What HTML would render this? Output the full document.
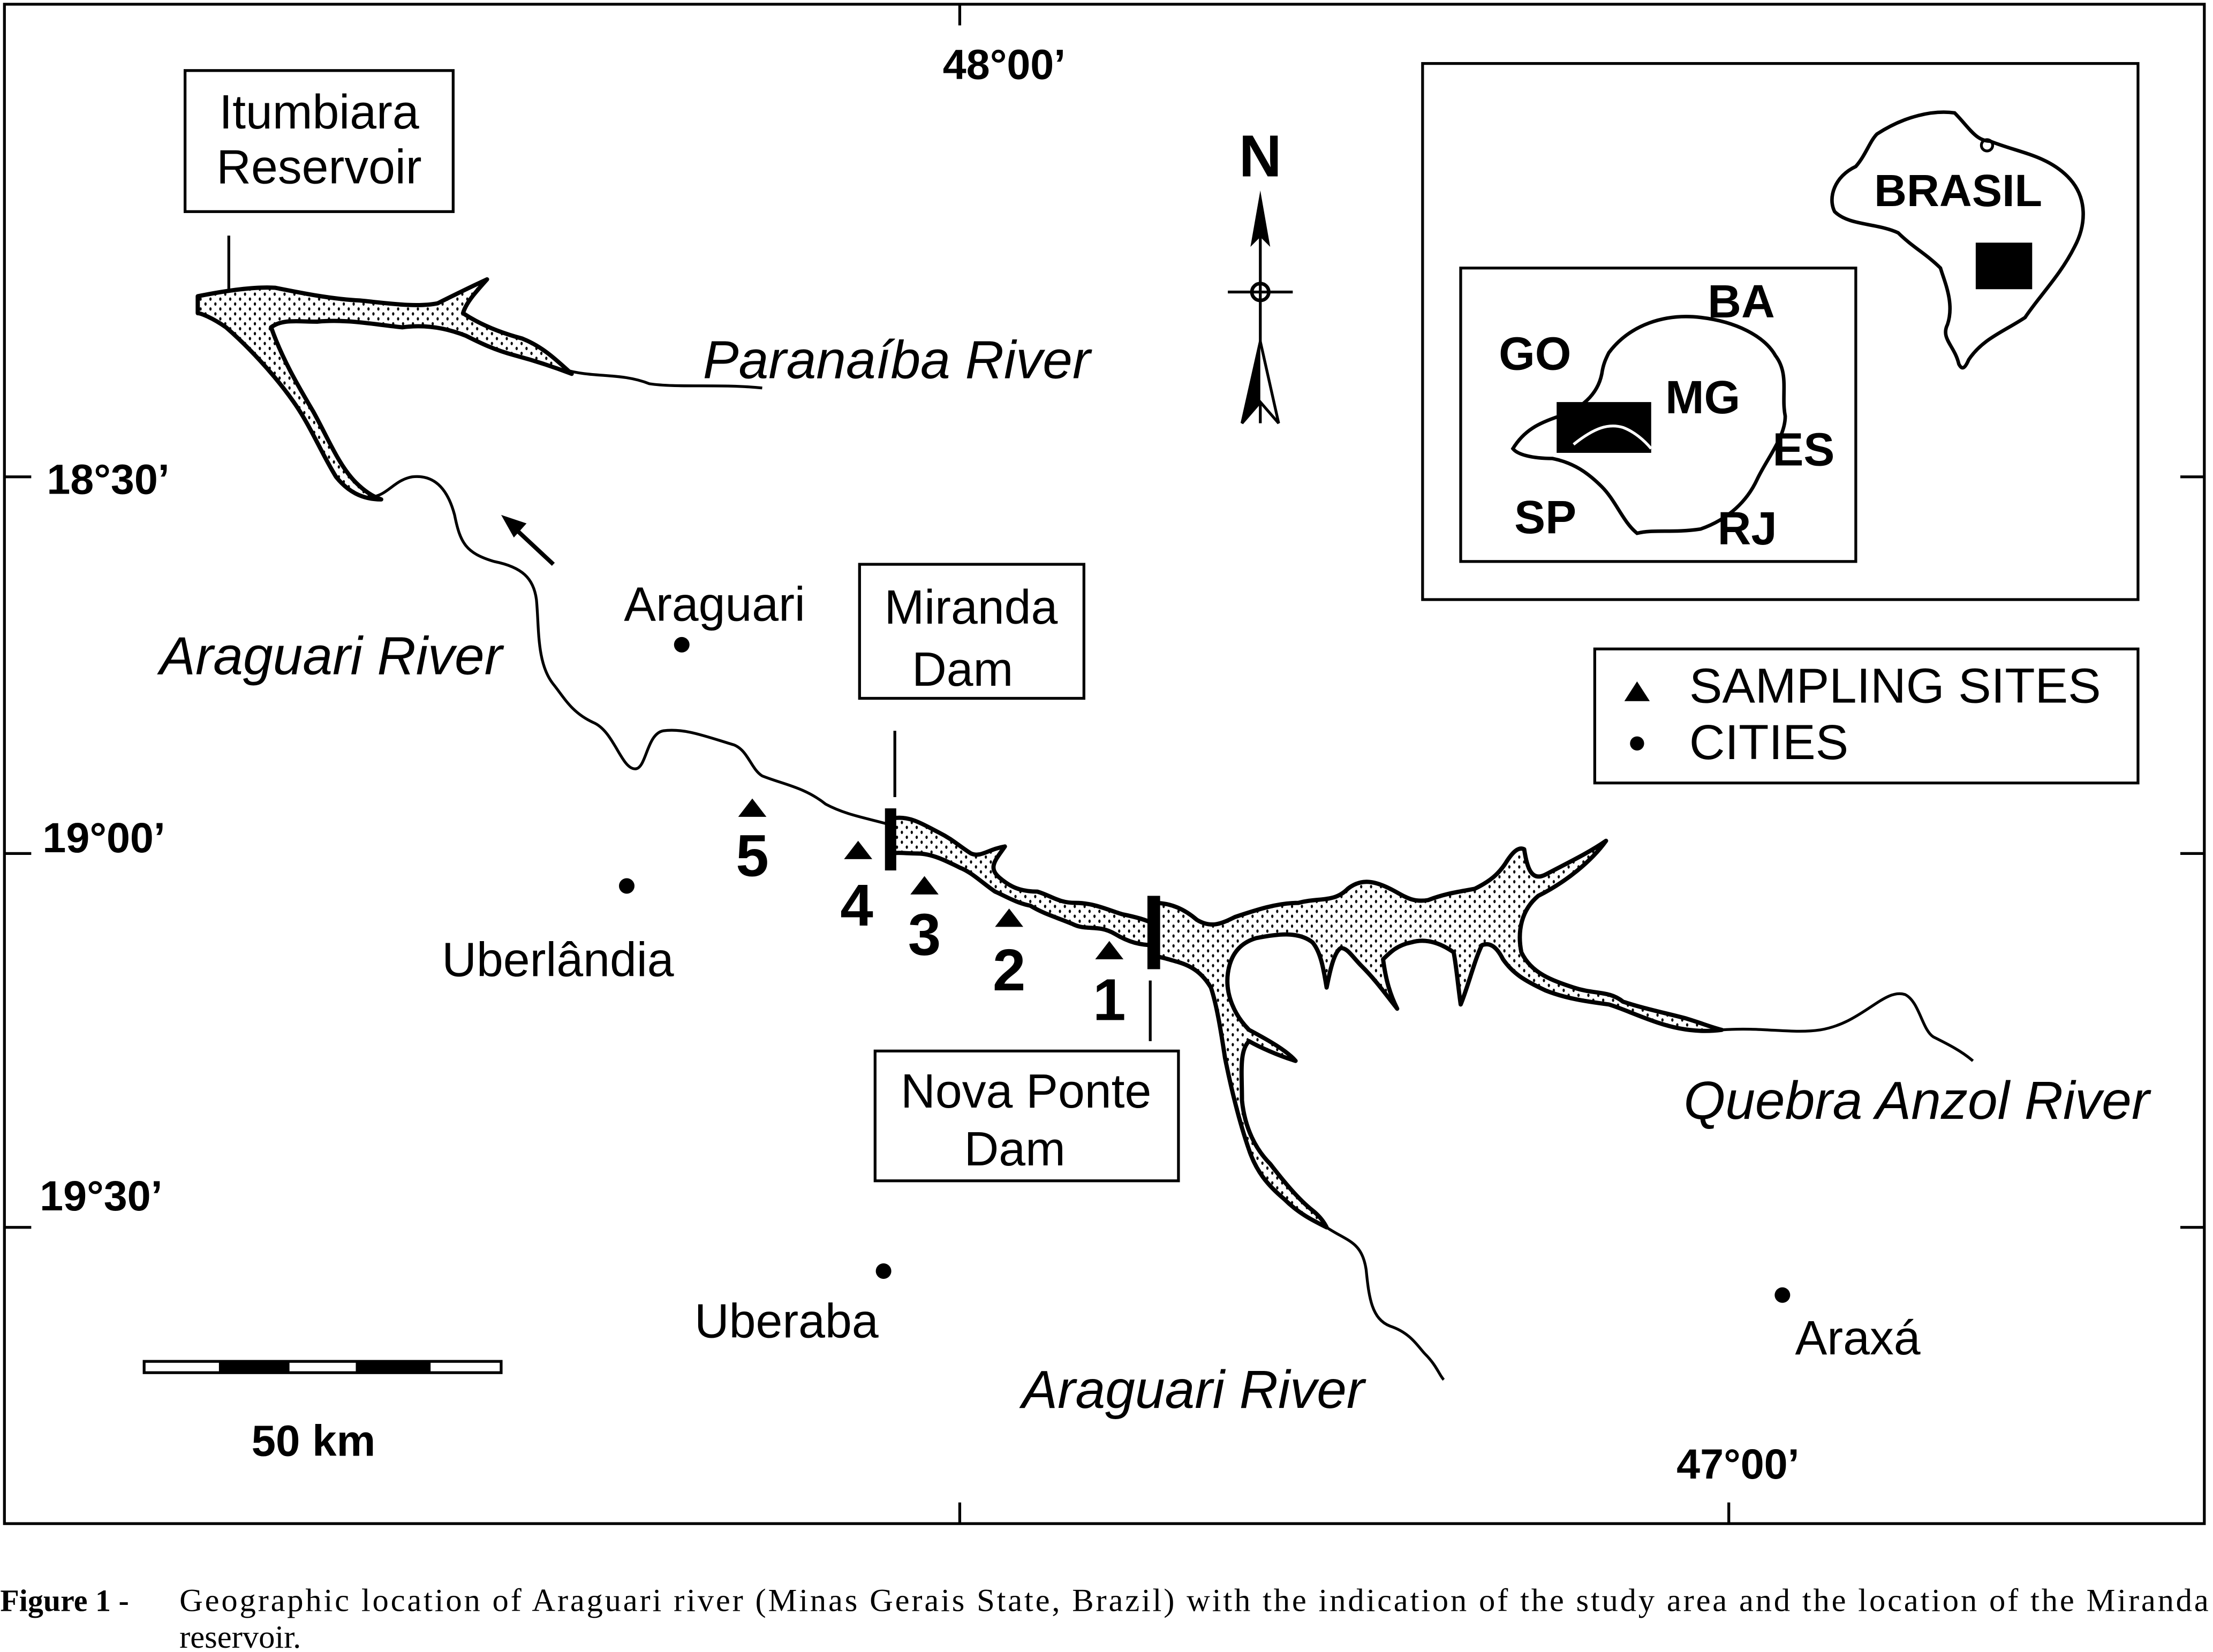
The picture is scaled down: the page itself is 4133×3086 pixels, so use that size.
<!DOCTYPE html>
<html><head><meta charset="utf-8"><style>
html,body{margin:0;padding:0;background:#fff;}
svg{display:block;}
text{font-family:"Liberation Sans",sans-serif;fill:#000;}
.b{font-weight:bold;}
.i{font-style:italic;}
.s{font-family:"Liberation Serif",serif;}
</style></head><body>
<svg width="4133" height="3086" viewBox="0 0 1568 1171" xmlns="http://www.w3.org/2000/svg">
<defs>
<pattern id="dots" width="7" height="7" patternUnits="userSpaceOnUse">
<rect width="7" height="7" fill="#fff"/>
<ellipse cx="2" cy="2" rx="0.8" ry="1.2" fill="#000"/>
<ellipse cx="5.5" cy="5.5" rx="0.8" ry="1.2" fill="#000"/>
</pattern>
</defs>
<rect x="0" y="0" width="1568" height="1171" fill="#fff"/>
<rect x="3" y="3" width="1559" height="1077" fill="none" stroke="#000" stroke-width="2"/>
<g stroke="#000" stroke-width="2">
<line x1="680" y1="3" x2="680" y2="18"/>
<line x1="3" y1="338" x2="22" y2="338"/><line x1="3" y1="605" x2="22" y2="605"/><line x1="3" y1="870" x2="22" y2="870"/>
<line x1="1545" y1="338" x2="1562" y2="338"/><line x1="1545" y1="605" x2="1562" y2="605"/><line x1="1545" y1="870" x2="1562" y2="870"/>
<line x1="680" y1="1065" x2="680" y2="1080"/><line x1="1225" y1="1065" x2="1225" y2="1080"/>
</g>
<g font-size="30">
<text x="668" y="56" class="b">48°00’</text>
<text x="33" y="350" class="b">18°30’</text>
<text x="30" y="604" class="b">19°00’</text>
<text x="28" y="858" class="b">19°30’</text>
<text x="1188" y="1048" class="b">47°00’</text>
</g>
<g fill="none" stroke="#000" stroke-width="2">
<rect x="131" y="50" width="190" height="100"/>
<rect x="609" y="400" width="159" height="95"/>
<rect x="620" y="745" width="215" height="92"/>
<rect x="1008" y="45" width="507" height="380"/>
<rect x="1035" y="190" width="280" height="208"/>
<rect x="1130" y="460" width="385" height="95"/>
<line x1="162" y1="167" x2="162" y2="205"/>
<line x1="634" y1="518" x2="634" y2="565"/>
<line x1="815" y1="695" x2="815" y2="738"/>
</g>
<g font-size="34" text-anchor="middle">
<text x="226" y="91">Itumbiara</text><text x="226" y="130">Reservoir</text>
<text x="688" y="442">Miranda</text><text x="682" y="486">Dam</text>
<text x="727" y="785">Nova Ponte</text><text x="719" y="826">Dam</text>
</g>
<polygon points="1151,497 1160,483 1169,497" fill="#000"/>
<circle cx="1160" cy="527" r="5" fill="#000"/>
<text x="1197" y="498" font-size="35">SAMPLING SITES</text>
<text x="1197" y="538" font-size="35">CITIES</text>
<g fill="none" stroke="#000" stroke-width="2">
<path d="M400,262 C420,268 440,264 460,272 C480,275 510,272 540,275"/>
<path d="M265,352 C275,350 280,340 292,338 C310,336 318,350 322,365 C326,385 330,392 350,398 C370,402 378,410 380,425 C382,445 380,470 392,485 C400,495 405,505 420,512 C435,518 440,545 450,545 C458,545 458,520 470,518 C485,516 500,522 520,528 C530,532 532,545 540,550 C555,556 570,558 585,570 C600,578 615,580 632,585"/>
<path d="M1220,730 C1250,728 1270,733 1290,730 C1320,725 1335,700 1350,705 C1360,710 1362,730 1370,735 C1380,740 1390,745 1398,752"/>
<path d="M940,870 C955,880 965,880 968,900 C970,920 972,935 985,940 C1000,945 1005,955 1010,960 C1018,968 1020,975 1023,978"/>
</g>
<g fill="url(#dots)" stroke="#000" stroke-width="3" stroke-linejoin="round">
<path d="M140,210 C160,206 180,203 195,204 C215,208 235,212 255,213 C275,215 295,218 310,215 C320,210 330,205 345,198 C336,208 330,215 328,222 C340,230 355,236 370,240 C385,246 395,256 405,265 C392,260 380,256 365,252 C350,248 340,243 330,238 C315,232 300,230 285,232 C265,230 245,226 225,228 C210,228 200,226 192,232 C200,255 212,275 222,292 C232,310 240,330 252,342 C258,348 264,352 270,354 C256,354 246,348 238,338 C228,322 220,302 208,285 C194,265 175,245 160,232 C150,225 142,222 140,222 Z"/>
<path d="M633,580 C645,578 655,585 665,590 C675,595 680,600 688,605 C695,608 700,602 712,600 C705,610 700,615 708,622 C715,628 722,632 735,632 C745,635 750,640 762,640 C775,640 785,645 795,648 C805,650 812,652 818,655 L818,670 C808,670 800,668 790,662 C778,655 770,660 760,655 C748,650 740,648 730,642 C720,640 712,635 705,632 C695,625 688,618 680,615 C670,610 660,605 650,605 C642,605 636,604 633,605 Z"/>
<path d="M818,640 C830,640 840,645 848,652 C858,658 865,655 875,650 C890,645 905,640 920,640 C935,636 945,640 955,630 C965,622 975,625 985,630 C995,635 1000,640 1012,638 C1025,633 1035,632 1045,630 C1055,625 1062,620 1068,610 C1072,604 1076,600 1080,602 C1082,615 1085,625 1095,620 C1110,612 1125,605 1138,596 C1128,610 1110,625 1090,635 C1078,645 1075,660 1078,675 C1085,690 1100,695 1115,700 C1130,705 1140,702 1150,710 C1165,715 1180,718 1195,722 C1205,725 1212,728 1220,730 C1205,732 1190,730 1175,725 C1160,720 1150,715 1140,712 C1125,710 1110,708 1095,702 C1080,695 1072,690 1065,680 C1060,670 1055,668 1050,670 C1045,680 1040,700 1035,712 C1033,698 1032,685 1030,675 C1020,668 1010,665 1000,668 C990,670 985,675 980,680 C982,695 985,705 990,715 C982,705 975,695 965,685 C958,678 955,672 950,672 C945,675 942,690 940,700 C938,688 936,675 930,668 C920,660 905,662 890,665 C880,668 872,675 870,690 C868,705 875,720 885,730 C900,738 912,745 918,752 C905,748 892,742 885,738 C878,745 880,760 880,780 C882,800 890,815 900,825 C910,838 920,850 930,858 C935,862 938,866 940,870 C930,865 920,860 910,850 C898,840 890,830 885,815 C878,795 872,770 868,750 C865,730 862,712 858,700 C852,690 845,685 835,682 C828,680 822,678 818,678 Z"/>
</g>
<rect x="627" y="573" width="8" height="44" fill="#000"/>
<rect x="813" y="635" width="9" height="52" fill="#000"/>
<line x1="392" y1="400" x2="362" y2="372" stroke="#000" stroke-width="3"/>
<polygon points="355,365 373,371 364,381" fill="#000"/>
<g fill="#000">
<polygon points="523,579 533,566 543,579"/>
<polygon points="598,609 608,596 618,609"/>
<polygon points="645,634 655,621 665,634"/>
<polygon points="705,657 715,644 725,657"/>
<polygon points="776,680 786,667 796,680"/>
</g>
<g font-size="42" text-anchor="middle">
<text x="533" y="621" class="b">5</text>
<text x="607" y="656" class="b">4</text>
<text x="655" y="677" class="b">3</text>
<text x="715" y="702" class="b">2</text>
<text x="786" y="723" class="b">1</text>
</g>
<g fill="#000">
<circle cx="483" cy="457" r="5.5"/><circle cx="444" cy="628" r="5.5"/>
<circle cx="626" cy="901" r="5.5"/><circle cx="1263" cy="918" r="5.5"/>
</g>
<g font-size="34">
<text x="442" y="440">Araguari</text>
<text x="313" y="692">Uberlândia</text>
<text x="492" y="948">Uberaba</text>
<text x="1272" y="960">Araxá</text>
</g>
<g font-size="38">
<text x="498" y="268" class="i">Paranaíba River</text>
<text x="113" y="478" class="i">Araguari River</text>
<text x="1193" y="793" class="i">Quebra Anzol River</text>
<text x="724" y="998" class="i">Araguari River</text>
</g>
<text x="893" y="125" class="b" font-size="42" text-anchor="middle">N</text>
<line x1="893" y1="150" x2="893" y2="300" stroke="#000" stroke-width="2"/>
<polygon points="893,135 886,175 893,168 900,175" fill="#000"/>
<circle cx="893" cy="207" r="6" fill="none" stroke="#000" stroke-width="2.5"/>
<line x1="870" y1="207" x2="916" y2="207" stroke="#000" stroke-width="2"/>
<polygon points="893,242 880,300 893,285 906,300" fill="#fff" stroke="#000" stroke-width="2"/>
<polygon points="893,242 880,300 893,285" fill="#000"/>
<path d="M1330,95 C1350,82 1370,78 1385,80 C1395,90 1400,100 1410,100 C1430,108 1450,110 1465,125 C1480,140 1478,160 1470,175 C1460,195 1445,210 1435,225 C1420,235 1405,240 1395,255 C1392,262 1390,262 1388,258 C1385,245 1375,240 1380,230 C1385,215 1378,200 1375,190 C1365,180 1355,175 1345,165 C1330,158 1310,160 1300,150 C1295,140 1300,125 1315,118 C1322,110 1325,100 1330,95 Z" fill="none" stroke="#000" stroke-width="2.5"/>
<circle cx="1408" cy="103" r="4" fill="none" stroke="#000" stroke-width="2"/>
<rect x="1400" y="172" width="40" height="33" fill="#000"/>
<text x="1328" y="146" class="b" font-size="32">BRASIL</text>
<path d="M1140,250 C1155,230 1180,222 1205,225 C1230,228 1250,238 1258,252 C1268,265 1262,280 1265,295 C1265,310 1252,325 1245,340 C1238,355 1225,368 1205,375 C1185,378 1172,375 1160,378 C1150,370 1145,355 1135,345 C1125,335 1115,328 1100,325 C1085,325 1075,322 1072,318 C1080,305 1090,300 1105,295 C1120,290 1132,280 1135,265 C1136,258 1138,254 1140,250 Z" fill="none" stroke="#000" stroke-width="2.5"/>
<rect x="1103" y="285" width="67" height="36" fill="#000"/>
<path d="M1115,315 C1130,303 1140,300 1150,303 C1158,306 1165,312 1170,318" fill="none" stroke="#fff" stroke-width="2"/>
<g font-size="33">
<text x="1062" y="262" class="b">GO</text>
<text x="1210" y="225" class="b">BA</text>
<text x="1180" y="293" class="b">MG</text>
<text x="1256" y="330" class="b">ES</text>
<text x="1073" y="378" class="b">SP</text>
<text x="1217" y="386" class="b">RJ</text>
</g>
<rect x="102" y="965" width="253" height="8" fill="#fff" stroke="#000" stroke-width="2"/>
<rect x="155" y="965" width="50" height="8" fill="#000"/>
<rect x="252" y="965" width="53" height="8" fill="#000"/>
<text x="222" y="1032" class="b" font-size="31" text-anchor="middle">50 km</text>
<text x="0" y="1142" class="s b" font-size="22">Figure 1 -</text>
<text x="127" y="1142" class="s" font-size="23" textLength="1438" lengthAdjust="spacing">Geographic location of Araguari river (Minas Gerais State, Brazil) with the indication of the study area and the location of the Miranda</text>
<text x="127" y="1168" class="s" font-size="23">reservoir.</text>
</svg>
</body></html>
